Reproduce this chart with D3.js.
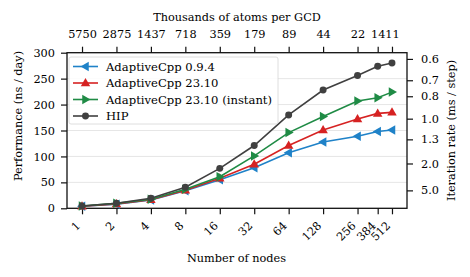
<!DOCTYPE html>
<html>
<head>
<meta charset="utf-8">
<script src="https://cdn.jsdelivr.net/npm/d3@7"></script>
<style>
  html, body { margin: 0; padding: 0; background: #fff; }
  svg text { font-family: "DejaVu Serif", serif; fill: #000; }
</style>
</head>
<body>
<div id="chart"></div>
<script>
// data
const nodes = [1, 2, 4, 8, 16, 32, 64, 128, 256, 384, 512];
const atomsLabels = ["5750", "2875", "1437", "718", "359", "179", "89", "44", "22", "14", "11"];
const acpp094 = [4, 8, 16, 34, 55, 78, 107, 128, 139, 148, 151];
const acpp2310 = [4, 8.5, 16.6, 35, 58, 85, 121, 151, 172, 183, 185];
const acpp2310i = [4.5, 9.5, 17.3, 36.6, 61, 101, 146, 177, 207, 213, 224];
const hip = [4.4, 9.6, 19.3, 40.5, 77, 121, 180, 228, 256, 274, 280];
const perfTicks = [0, 50, 100, 150, 200, 250, 300];
const rateTicks = [0.6, 0.7, 0.8, 1.0, 1.3, 2.0, 5.0];
const NS_DAY_PER_MS = 172.8; // ns/day * ms/step for a 2 fs time step

const series = [
  { name: "AdaptiveCpp 0.9.4", values: acpp094, color: "#1f82c8", marker: "left" },
  { name: "AdaptiveCpp 23.10", values: acpp2310, color: "#d62222", marker: "up" },
  { name: "AdaptiveCpp 23.10 (instant)", values: acpp2310i, color: "#1f8b45", marker: "right" },
  { name: "HIP", values: hip, color: "#404040", marker: "circle" }
];

const W = 470, H = 277;
const M = { left: 67, right: 407, top: 52.7, bottom: 208.3 };
const FS = "11.3px";

const svg = d3.select("#chart").append("svg")
  .attr("width", W).attr("height", H);

const x = d3.scaleLog().base(2)
  .domain([Math.pow(2, -0.436), Math.pow(2, 9.436)])
  .range([M.left, M.right]);
const y = d3.scaleLinear().domain([0, 300]).range([M.bottom, M.top]);

// grid
svg.append("g").selectAll("line")
  .data(perfTicks.slice(1, -1))
  .join("line")
  .attr("x1", M.left).attr("x2", M.right)
  .attr("y1", d => y(d)).attr("y2", d => y(d))
  .attr("stroke", "#e6e6e6").attr("stroke-width", 1);

function styleAxis(g) {
  g.attr("font-family", null);
  g.select(".domain").remove();
  g.selectAll(".tick line").attr("stroke", "#111").attr("stroke-width", 1.2);
  g.selectAll(".tick text").style("font-size", FS).attr("fill", "#000");
}

// left axis
svg.append("g")
  .attr("transform", `translate(${M.left},0)`)
  .call(d3.axisLeft(y).tickValues(perfTicks).tickSize(6).tickPadding(6))
  .call(styleAxis);

// right axis: iteration rate
svg.append("g")
  .attr("transform", `translate(${M.right},0)`)
  .call(d3.axisRight(y).tickValues(rateTicks.map(v => NS_DAY_PER_MS / v))
    .tickFormat((d, i) => rateTicks[i].toFixed(1)).tickSize(6).tickPadding(8))
  .call(styleAxis);

// bottom axis
const bottom = svg.append("g")
  .attr("transform", `translate(0,${M.bottom})`)
  .call(d3.axisBottom(x).tickValues(nodes).tickFormat(d3.format("d")).tickSize(6).tickPadding(4))
  .call(styleAxis);
bottom.selectAll(".tick text")
  .attr("text-anchor", "end")
  .attr("dy", null)
  .attr("y", 0).attr("x", 0)
  .attr("transform", "translate(-1.5,18) rotate(-45)");

// top axis
svg.append("g")
  .attr("transform", `translate(0,${M.top})`)
  .call(d3.axisTop(x).tickValues(nodes).tickFormat((d, i) => atomsLabels[i]).tickSize(6).tickPadding(9))
  .call(styleAxis);

// frame
svg.append("rect")
  .attr("x", M.left).attr("y", M.top)
  .attr("width", M.right - M.left).attr("height", M.bottom - M.top)
  .attr("fill", "none").attr("stroke", "#111").attr("stroke-width", 1.3);

// axis titles
const labelStyle = sel => sel.style("font-size", FS).attr("text-anchor", "middle");
svg.append("text").attr("x", 237).attr("y", 20.5)
  .text("Thousands of atoms per GCD").call(labelStyle);
svg.append("text").attr("x", 236.5).attr("y", 262)
  .text("Number of nodes").call(labelStyle);
svg.append("text").attr("transform", "translate(21.5,116) rotate(-90)")
  .text("Performance (ns / day)").call(labelStyle);
svg.append("text").attr("transform", "translate(455,130.5) rotate(-90)")
  .text("Iteration rate (ms / step)").call(labelStyle);

// markers
function markerPath(type, s) {
  if (type === "circle") return d3.symbol(d3.symbolCircle, 38)();
  const r = s;
  if (type === "up") return `M0,${-r}L${r * 0.95},${r * 0.65}L${-r * 0.95},${r * 0.65}Z`;
  if (type === "left") return `M${-r},0L${r * 0.65},${-r * 0.95}L${r * 0.65},${r * 0.95}Z`;
  return `M${r},0L${-r * 0.65},${-r * 0.95}L${-r * 0.65},${r * 0.95}Z`;
}

const line = d3.line().x((d, i) => x(nodes[i])).y(d => y(d));

const plot = svg.append("g");
series.forEach(s => {
  plot.append("path")
    .datum(s.values)
    .attr("d", line)
    .attr("fill", "none")
    .attr("stroke", s.color)
    .attr("stroke-width", 1.6);
  plot.selectAll(null)
    .data(s.values)
    .join("path")
    .attr("transform", (d, i) => `translate(${x(nodes[i])},${y(d)})`)
    .attr("d", markerPath(s.marker, 5))
    .attr("fill", s.color);
});

// legend
const lg = svg.append("g").attr("transform", "translate(69,57)");
lg.append("rect")
  .attr("width", 209).attr("height", 67).attr("rx", 2)
  .attr("fill", "rgba(255,255,255,0.85)").attr("stroke", "#d6d6d6").attr("stroke-width", 0.8);
series.forEach((s, i) => {
  const g = lg.append("g").attr("transform", `translate(0,${9.5 + i * 16.5})`);
  g.append("line").attr("x1", 4).attr("x2", 29).attr("stroke", s.color).attr("stroke-width", 1.6);
  g.append("path").attr("transform", "translate(16.5,0)").attr("d", markerPath(s.marker, 5)).attr("fill", s.color);
  g.append("text").attr("x", 37).attr("y", 0).attr("dy", "0.35em")
    .style("font-size", "11.6px").text(s.name);
});
</script>
</body>
</html>
